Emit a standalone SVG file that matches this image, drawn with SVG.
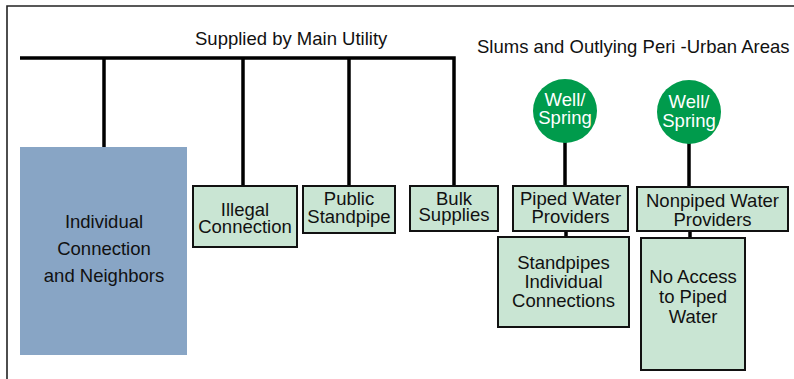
<svg xmlns="http://www.w3.org/2000/svg" width="794" height="379" viewBox="0 0 794 379">
<style>
text{font-family:"Liberation Sans",Arial,sans-serif;font-size:18.5px;fill:#111;text-anchor:middle}
.box{fill:#C9E5D3;stroke:#111;stroke-width:2}
.well{fill:#009B4C}
.wt{fill:#fff}
.c{stroke:#000;stroke-width:3.5;fill:none}
.hd{text-anchor:start}
</style>
<rect width="794" height="379" fill="#fff"/>
<path d="M7,379 V6 H794" fill="none" stroke="#222" stroke-width="1.6"/>
<text class="hd" x="195" y="45">Supplied by Main Utility</text>
<text class="hd" x="477" y="53">Slums and Outlying Peri -Urban Areas</text>
<g id="connectors">
<path class="c" d="M20,58 H454 V185"/>
<path class="c" d="M104,58 V147"/>
<path class="c" d="M243,58 V185"/>
<path class="c" d="M349,58 V185"/>
<path class="c" d="M565,140 V186"/>
<path class="c" d="M689,140 V187"/>
<path class="c" d="M566,231 V237"/>
<path class="c" d="M690,231 V238"/>
</g>
<g id="individual">
<rect x="20" y="147" width="167" height="208" fill="#88A5C5"/>
<text x="104" y="228">Individual</text>
<text x="104" y="255">Connection</text>
<text x="104" y="282">and Neighbors</text>
</g>
<g id="illegal">
<rect class="box" x="193" y="186" width="104" height="61"/>
<text x="245" y="216">Illegal</text>
<text x="245" y="233">Connection</text>
</g>
<g id="public">
<rect class="box" x="303" y="186" width="92" height="47"/>
<text x="349" y="205">Public</text>
<text x="349" y="223">Standpipe</text>
</g>
<g id="bulk">
<rect class="box" x="410" y="186" width="88" height="45"/>
<text x="454" y="205">Bulk</text>
<text x="454" y="221">Supplies</text>
</g>
<g id="well1">
<circle class="well" cx="565" cy="111" r="32"/>
<text class="wt" x="565" y="106">Well/</text>
<text class="wt" x="565" y="124">Spring</text>
</g>
<g id="well2">
<circle class="well" cx="689" cy="112" r="32"/>
<text class="wt" x="689" y="108">Well/</text>
<text class="wt" x="689" y="127">Spring</text>
</g>
<g id="piped">
<rect class="box" x="513" y="186" width="115" height="45"/>
<text x="570.5" y="205">Piped Water</text>
<text x="570.5" y="223">Providers</text>
</g>
<g id="nonpiped">
<rect class="box" x="637" y="187" width="151" height="44"/>
<text x="712.5" y="207">Nonpiped Water</text>
<text x="712.5" y="226">Providers</text>
</g>
<g id="standpipes">
<rect class="box" x="498" y="237" width="131" height="90"/>
<text x="563.5" y="269">Standpipes</text>
<text x="563.5" y="288">Individual</text>
<text x="563.5" y="307">Connections</text>
</g>
<g id="noaccess">
<rect class="box" x="641" y="238" width="104" height="132"/>
<text x="693" y="283">No Access</text>
<text x="693" y="303">to Piped</text>
<text x="693" y="323">Water</text>
</g>
</svg>
